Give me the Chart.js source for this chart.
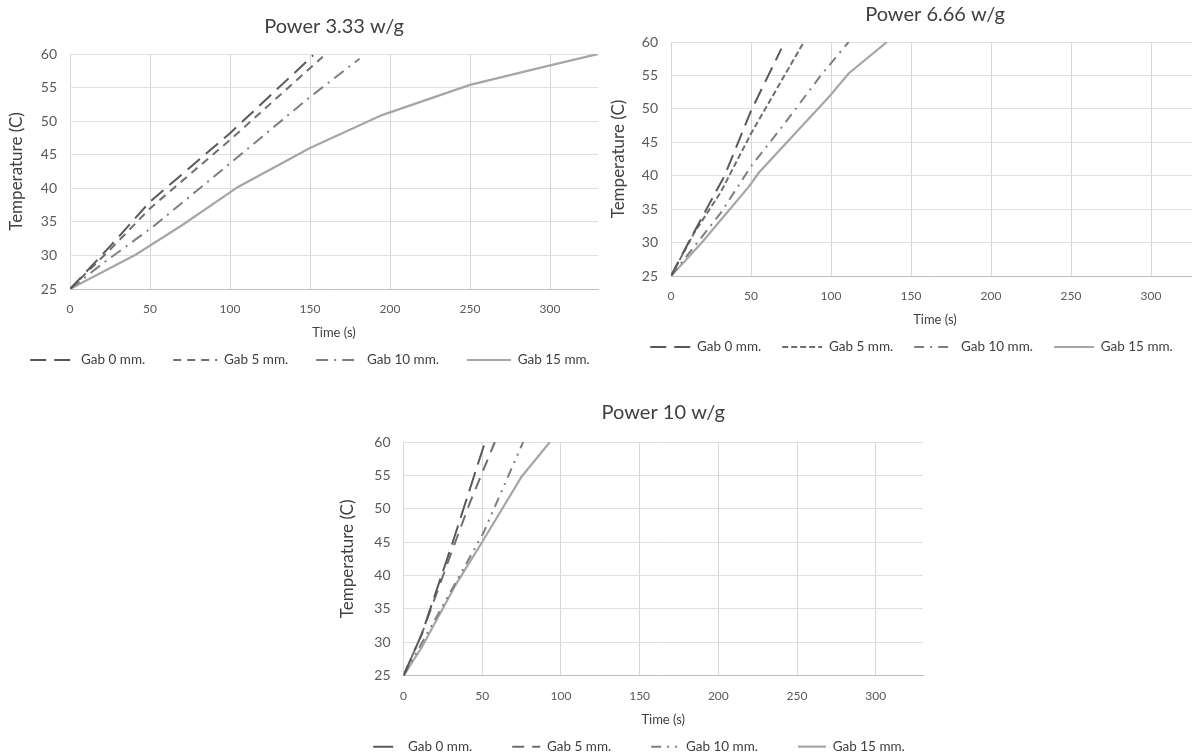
<!DOCTYPE html>
<html>
<head>
<meta charset="utf-8">
<title>Temperature vs time</title>
<script src="https://cdn.jsdelivr.net/npm/chart.js@4.4.1/dist/chart.umd.min.js"></script>
<style>
  html, body { margin:0; padding:0; background:#fff; overflow:hidden; width:1192px; height:755px; }
  .box { position:absolute; }
</style>
</head>
<body>
<div class="box" style="left:0;top:0;width:620px;height:378px"><canvas id="c1"></canvas></div>
<div class="box" style="left:600px;top:0;width:623px;height:366px"><canvas id="c2"></canvas></div>
<div class="box" style="left:330px;top:385px;width:618px;height:380px"><canvas id="c3"></canvas></div>
<script>
/* ---------- data ---------- */
const gapLabels = ['Gab 0 mm.', 'Gab 5 mm.', 'Gab 10 mm.', 'Gab 15 mm.'];
const timeTicks = [0, 50, 100, 150, 200, 250, 300];
const tempTicks = [25, 30, 35, 40, 45, 50, 55, 60];

// Power 3.33 w/g
const p1Gab0Time  = [0, 26, 50, 100, 152];
const p1Gab0Temp  = [25, 31.6, 38, 48.2, 59.8];
const p1Gab5Time  = [0, 26, 50, 100, 158];
const p1Gab5Temp  = [25, 31.1, 37, 47.2, 59.6];
const p1Gab10Time = [0, 21, 52, 100, 150, 181];
const p1Gab10Temp = [25, 28.9, 34.3, 43.7, 53.6, 59.3];
const p1Gab15Time = [0, 41, 70, 105, 150, 195, 250, 300, 330];
const p1Gab15Temp = [25, 30.1, 34.5, 40.2, 46, 50.9, 55.4, 58.3, 60];

// Power 6.66 w/g
const p2Gab0Time  = [0, 12, 33.5, 50, 69];
const p2Gab0Temp  = [25, 30.5, 40, 49.7, 59];
const p2Gab5Time  = [0, 14.6, 31, 50, 83];
const p2Gab5Temp  = [25, 31.5, 37.5, 46.3, 60];
const p2Gab10Time = [0, 31, 50, 71, 93.6, 111];
const p2Gab10Temp = [25, 34.4, 41.4, 47.8, 55, 60];
const p2Gab15Time = [0, 19.3, 48.8, 54.7, 99.5, 111, 135];
const p2Gab15Temp = [25, 30, 38.4, 40.4, 52, 55.3, 60];

// Power 10 w/g
const p3Gab0Time  = [0, 11.7, 31, 51.8];
const p3Gab0Temp  = [25, 31.3, 44.8, 60];
const p3Gab5Time  = [0, 11.7, 31, 42, 58];
const p3Gab5Temp  = [25, 31.3, 43.8, 50.8, 60];
const p3Gab10Time = [0, 23.8, 50.6, 76];
const p3Gab10Temp = [25, 35, 46.3, 60];
const p3Gab15Time = [0, 11.7, 33.6, 49.4, 75, 93];
const p3Gab15Temp = [25, 29.3, 38.8, 44.8, 54.8, 60];

/* ---------- helpers ---------- */
const FONT = 'Lato, "Open Sans", sans-serif';
const pts = (xs, ys) => xs.map((x, i) => ({x, y: ys[i]}));

// title centred over the plot area (Excel style)
const areaTitle = {
  id: 'areaTitle',
  afterDraw(chart, args, o) {
    const {ctx, chartArea} = chart;
    ctx.save();
    ctx.font = '20px ' + FONT;
    ctx.fillStyle = '#404040';
    ctx.textAlign = 'center';
    ctx.textBaseline = 'middle';
    ctx.fillText(o.text, (chartArea.left + chartArea.right) / 2, o.y);
    ctx.restore();
  }
};

function ds(label, data, color, dash, width){
  return { label, data, borderColor: color, backgroundColor: color, borderDash: dash,
           borderWidth: width || 2, pointRadius: 0, pointHitRadius: 0, tension: 0, fill: false };
}

// legend samples drawn as dashed lines like the series
function legendItems(chart){
  return Chart.defaults.plugins.legend.labels.generateLabels(chart).map(it => {
    const d = chart.data.datasets[it.datasetIndex];
    return Object.assign(it, { lineDash: d.borderDash, strokeStyle: d.borderColor, lineWidth: d.borderWidth });
  });
}

function makeChart(id, cfg){
  return new Chart(document.getElementById(id), {
    type: 'line',
    data: { datasets: cfg.datasets },
    plugins: [areaTitle],
    options: {
      responsive: true, maintainAspectRatio: false, animation: false,
      layout: { padding: { top: cfg.top, right: 0, bottom: cfg.bottom, left: 0 } },
      plugins: {
        areaTitle: { text: cfg.title, y: cfg.titleY },
        tooltip: { enabled: false },
        legend: {
          position: 'bottom',
          labels: { usePointStyle: true, pointStyle: 'line', pointStyleWidth: cfg.sample,
                    padding: cfg.legendGap, color: '#404040', font: { family: FONT, size: 13.5 },
                    generateLabels: legendItems }
        }
      },
      scales: {
        x: {
          type: 'linear', min: 0, max: 330,
          afterBuildTicks: s => { s.ticks = timeTicks.map(v => ({value: v})); },
          afterFit: s => { s.height = cfg.xHeight; },
          grid: { color: '#d6d6d6', drawTicks: false },
          border: { color: '#bfbfbf', width: 1 },
          ticks: { padding: 13, color: '#595959', maxRotation: 0, font: { family: FONT, size: 12 } },
          title: { display: true, text: 'Time (s)', color: '#404040', padding: { top: 0, bottom: cfg.xTitlePad },
                   font: { family: FONT, size: 13 } }
        },
        y: {
          min: 25, max: 60,
          afterBuildTicks: s => { s.ticks = tempTicks.map(v => ({value: v})); },
          afterFit: s => { s.width = cfg.yWidth; },
          grid: { color: '#e0e0e0', drawTicks: false },
          border: { display: false },
          ticks: { padding: 13, color: '#595959', font: { family: FONT, size: 14 } },
          title: { display: true, text: 'Temperature (C)', color: '#404040', padding: { top: cfg.yTitlePad, bottom: 0 },
                   font: { family: FONT, size: 17 } }
        },
        // empty right-hand axis: keeps the plot clear of the canvas edge without narrowing the legend
        yPad: {
          type: 'linear', axis: 'y', position: 'right',
          afterFit: s => { s.width = cfg.rightWidth; },
          grid: { display: false }, border: { display: false }, ticks: { display: false }
        }
      }
    }
  });
}

/* ---------- charts ---------- */
makeChart('c1', {
  title: 'Power 3.33 w/g', titleY: 27,
  top: 54, bottom: 1.25, yWidth: 70, rightWidth: 22, yTitlePad: 6.8,
  xHeight: 36.25, xTitlePad: -15.55,
  sample: 44, legendGap: 28,
  datasets: [
    ds(gapLabels[0], pts(p1Gab0Time, p1Gab0Temp), '#595959', [16, 8]),
    ds(gapLabels[1], pts(p1Gab5Time, p1Gab5Temp), '#6e6e6e', [8, 6]),
    ds(gapLabels[2], pts(p1Gab10Time, p1Gab10Temp), '#7f7f7f', [12, 6, 2, 6]),
    ds(gapLabels[3], pts(p1Gab15Time, p1Gab15Temp), '#a6a6a6', [], 2.2)
  ]
});

makeChart('c2', {
  title: 'Power 6.66 w/g', titleY: 15,
  top: 42, bottom: 2.25, yWidth: 71, rightWidth: 24, yTitlePad: 8.8,
  xHeight: 43.25, xTitlePad: -8.55,
  sample: 40, legendGap: 21,
  datasets: [
    ds(gapLabels[0], pts(p2Gab0Time, p2Gab0Temp), '#595959', [16, 8]),
    ds(gapLabels[1], pts(p2Gab5Time, p2Gab5Temp), '#6e6e6e', [6, 3]),
    ds(gapLabels[2], pts(p2Gab10Time, p2Gab10Temp), '#7f7f7f', [10, 6, 2, 6]),
    ds(gapLabels[3], pts(p2Gab15Time, p2Gab15Temp), '#a6a6a6', [], 2.2)
  ]
});

makeChart('c3', {
  title: 'Power 10 w/g', titleY: 28,
  top: 57, bottom: 1.55, yWidth: 73.5, rightWidth: 25, yTitlePad: 7.8,
  xHeight: 24.25, xTitlePad: -27.55,
  sample: 28, legendGap: 40,
  datasets: [
    ds(gapLabels[0], pts(p3Gab0Time, p3Gab0Temp), '#595959', [20, 8]),
    ds(gapLabels[1], pts(p3Gab5Time, p3Gab5Temp), '#6e6e6e', [12, 8]),
    ds(gapLabels[2], pts(p3Gab10Time, p3Gab10Temp), '#7f7f7f', [10, 6, 2, 6, 2, 6]),
    ds(gapLabels[3], pts(p3Gab15Time, p3Gab15Temp), '#a6a6a6', [], 2.2)
  ]
});
</script>
</body>
</html>
